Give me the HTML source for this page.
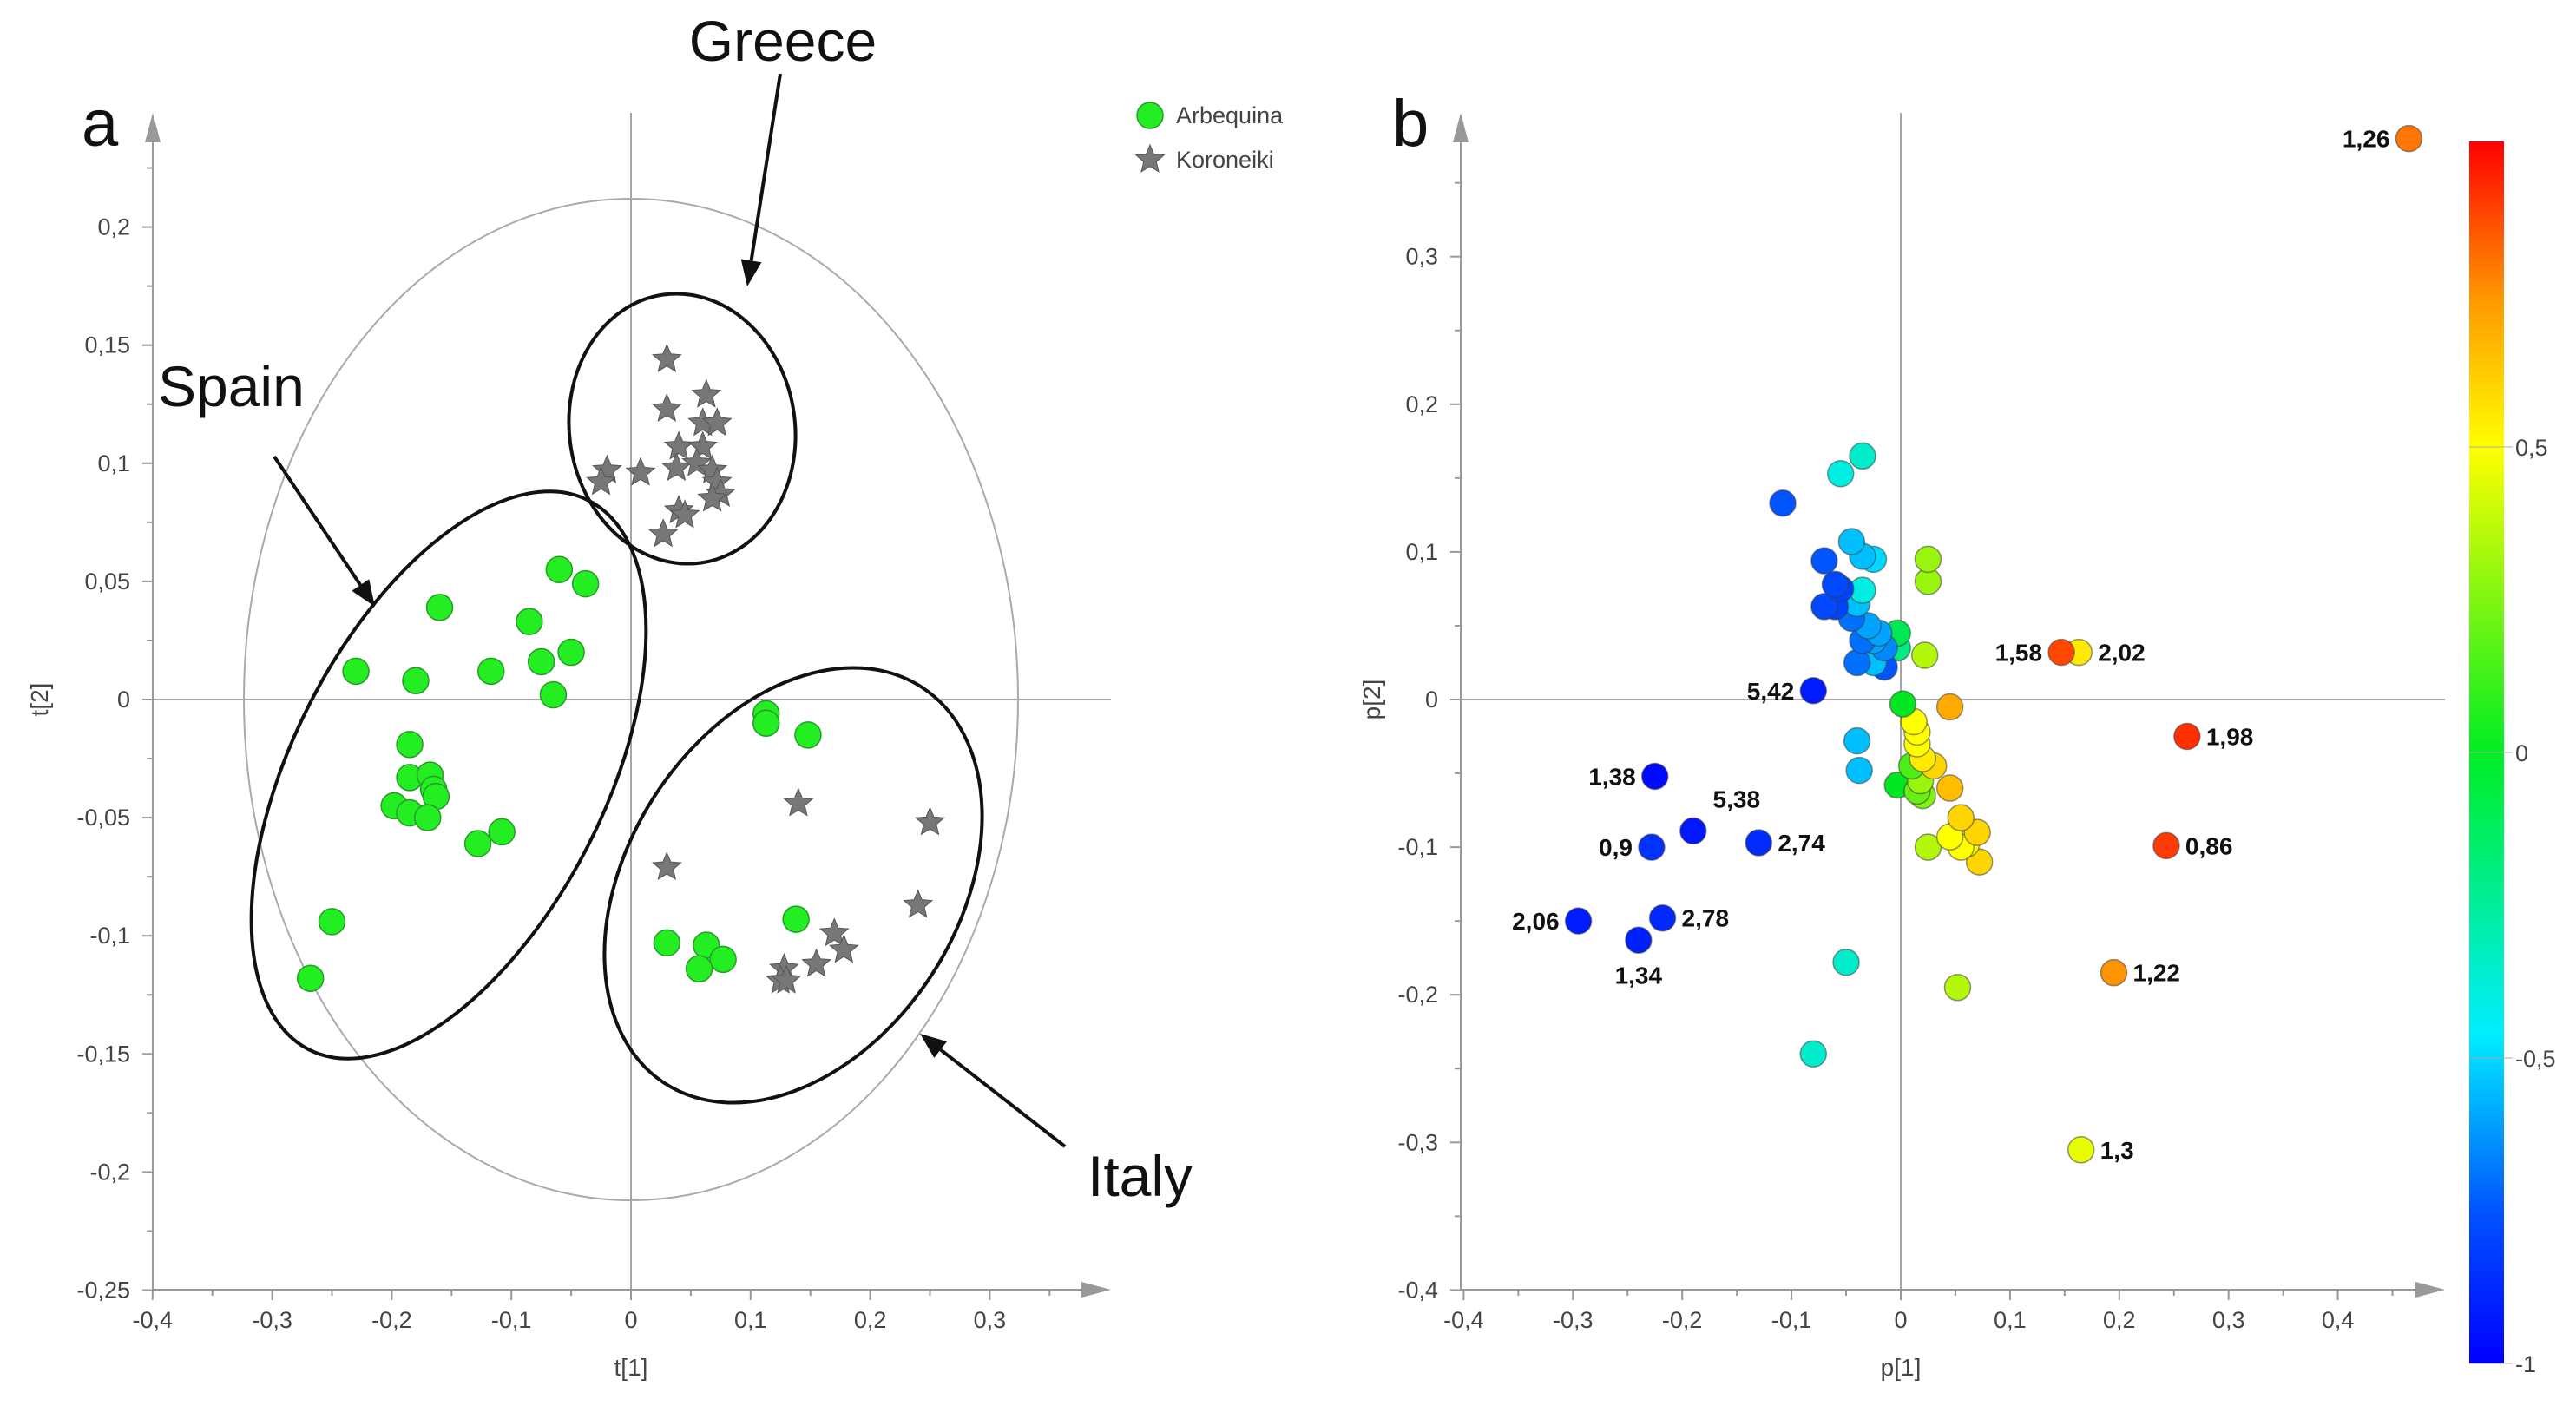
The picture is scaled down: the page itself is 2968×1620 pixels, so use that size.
<!DOCTYPE html>
<html><head><meta charset="utf-8">
<style>
html,body{margin:0;padding:0;background:#fff;}
svg{display:block;font-family:"Liberation Sans",sans-serif;}
</style></head>
<body>
<svg id="chart" width="2968" height="1620" viewBox="0 0 2968 1620" xmlns="http://www.w3.org/2000/svg">
<defs>
<linearGradient id="cbar" x1="0" y1="1" x2="0" y2="0">
<stop offset="0" stop-color="#0000ff"/>
<stop offset="0.12" stop-color="#0050ff"/>
<stop offset="0.27" stop-color="#00eeff"/>
<stop offset="0.5" stop-color="#00ee22"/>
<stop offset="0.75" stop-color="#ffff00"/>
<stop offset="0.87" stop-color="#ff9900"/>
<stop offset="1" stop-color="#ff0000"/>
</linearGradient>
</defs>
<g id="panelA"></g>
<g id="panelB"></g>
</svg>
<script>
// ---- Panel a data ----
const arbT1 = [-0.23,-0.18,-0.16,-0.117,-0.085,-0.075,-0.06,-0.038,-0.05,-0.065,-0.185,-0.185,-0.168,-0.165,-0.163,-0.198,-0.185,-0.17,-0.128,-0.108,-0.25,-0.268,0.113,0.113,0.148,0.138,0.03,0.063,0.077,0.057];
const arbT2 = [0.012,0.008,0.039,0.012,0.033,0.016,0.055,0.049,0.02,0.002,-0.019,-0.033,-0.032,-0.038,-0.041,-0.045,-0.048,-0.05,-0.061,-0.056,-0.094,-0.118,-0.006,-0.01,-0.015,-0.093,-0.103,-0.104,-0.11,-0.114];
const korT1 = [0.03,0.03,0.063,0.06,0.072,0.04,0.06,0.038,0.055,0.068,0.072,0.075,0.068,0.008,-0.02,-0.025,0.04,0.045,0.027,0.14,0.03,0.25,0.24,0.17,0.178,0.155,0.128,0.125,0.13];
const korT2 = [0.144,0.123,0.129,0.117,0.117,0.107,0.107,0.098,0.1,0.097,0.092,0.087,0.085,0.096,0.097,0.092,0.08,0.078,0.07,-0.044,-0.071,-0.052,-0.087,-0.099,-0.106,-0.112,-0.114,-0.119,-0.119];
const aXTicks = [-0.4,-0.3,-0.2,-0.1,0,0.1,0.2,0.3];
const aXLabels = ["-0,4","-0,3","-0,2","-0,1","0","0,1","0,2","0,3"];
const aYTicks = [0.2,0.15,0.1,0.05,0,-0.05,-0.1,-0.15,-0.2,-0.25];
const aYLabels = ["0,2","0,15","0,1","0,05","0","-0,05","-0,1","-0,15","-0,2","-0,25"];

// ---- Panel b data ----
const pP1 = [0.465,0.147,0.163,0.262,0.243,0.195,0.165,-0.08,-0.225,-0.19,-0.228,-0.13,-0.295,-0.218,-0.24,
 -0.108,-0.055,-0.035,-0.045,-0.035,-0.025,-0.07,-0.06,-0.055,-0.035,-0.07,-0.06,-0.04,-0.045,-0.03,-0.02,-0.035,-0.025,-0.015,-0.04,-0.025,-0.015,-0.003,-0.003,
 0.025,0.025,0.022,0.002,0.045,0.012,0.015,0.015,0.02,0.03,0.01,0.018,0.045,0.015,0.02,-0.003,0.055,0.07,0.045,0.055,0.06,0.072,0.025,-0.04,-0.038,-0.05,-0.08,0.052];
const pP2 = [0.38,0.032,0.032,-0.025,-0.099,-0.185,-0.305,0.006,-0.052,-0.089,-0.1,-0.097,-0.15,-0.148,-0.163,
 0.133,0.153,0.165,0.107,0.097,0.095,0.094,0.078,0.075,0.074,0.063,0.063,0.065,0.055,0.05,0.045,0.04,0.04,0.035,0.025,0.025,0.022,0.045,0.035,
 0.095,0.08,0.03,-0.003,-0.005,-0.015,-0.022,-0.03,-0.04,-0.045,-0.045,-0.055,-0.06,-0.062,-0.065,-0.058,-0.08,-0.09,-0.093,-0.1,-0.098,-0.11,-0.1,-0.028,-0.048,-0.178,-0.24,-0.195];
const pCol = [0.8,0.88,0.55,0.92,0.9,0.75,0.45,-0.92,-0.97,-0.93,-0.85,-0.87,-0.92,-0.88,-0.9,
 -0.75,-0.4,-0.35,-0.55,-0.55,-0.5,-0.75,-0.78,-0.8,-0.4,-0.78,-0.8,-0.55,-0.7,-0.6,-0.6,-0.7,-0.6,-0.65,-0.7,-0.55,-0.75,-0.1,-0.2,
 0.3,0.3,0.35,0.0,0.7,0.5,0.5,0.5,0.55,0.6,0.15,0.3,0.65,0.2,0.25,0.0,0.6,0.6,0.5,0.5,0.5,0.6,0.35,-0.55,-0.55,-0.35,-0.35,0.35];
const pLabels = ["1,26","1,58","2,02","1,98","0,86","1,22","1,3","5,42","1,38","5,38","0,9","2,74","2,06","2,78","1,34"];
const pLabelPos = ["L","L","R","R","R","R","R","L","L","UR","L","R","L","R","B"];
const bXTicks = [-0.4,-0.3,-0.2,-0.1,0,0.1,0.2,0.3,0.4];
const bXLabels = ["-0,4","-0,3","-0,2","-0,1","0","0,1","0,2","0,3","0,4"];
const bYTicks = [0.3,0.2,0.1,0,-0.1,-0.2,-0.3,-0.4];
const bYLabels = ["0,3","0,2","0,1","0","-0,1","-0,2","-0,3","-0,4"];
const cbTicks = [0.5,0,-0.5,-1];
const cbLabels = ["0,5","0","-0,5","-1"];

const NS="http://www.w3.org/2000/svg";
function mk(parent,tag,attrs,text){const e=document.createElementNS(NS,tag);for(const k in attrs)e.setAttribute(k,attrs[k]);if(text!==undefined)e.textContent=text;parent.appendChild(e);return e;}

// axis functions
const ax=v=>727+v*1378, ay=v=>806-v*2722;
const bx=v=>2190+v*1259, by=v=>806-v*1701;
const cy=v=>867-v*704;

function colormap(v){
  const st=[[-1,[0,0,255]],[-0.76,[0,80,255]],[-0.46,[0,238,255]],[0,[0,230,34]],[0.5,[255,255,0]],[0.74,[255,153,0]],[1,[255,0,0]]];
  v=Math.max(-1,Math.min(1,v));
  for(let i=0;i<st.length-1;i++){const [a,ca]=st[i],[b,cb]=st[i+1];
    if(v<=b){const t=(v-a)/(b-a);return "rgb("+ca.map((c,j)=>Math.round(c+(cb[j]-c)*t)).join(",")+")";}}
  return "rgb(255,0,0)";
}
function star(cx,cy,r){let p=[];for(let i=0;i<10;i++){const rr=i%2?r*0.45:r;const a=-Math.PI/2+i*Math.PI/5;p.push((cx+rr*Math.cos(a)).toFixed(1)+","+(cy+rr*Math.sin(a)).toFixed(1));}return p.join(" ");}

function axes(g,X0,X1,Y0,Y1,xaxisY,yaxisX){
  // x axis
  mk(g,"line",{x1:yaxisX,y1:xaxisY,x2:X1-20,y2:xaxisY,stroke:"#999","stroke-width":2});
  mk(g,"polygon",{points:`${X1},${xaxisY} ${X1-34},${xaxisY-9} ${X1-34},${xaxisY+9}`,fill:"#999"});
  mk(g,"line",{x1:yaxisX,y1:Y0+20,x2:yaxisX,y2:xaxisY,stroke:"#999","stroke-width":2});
  mk(g,"polygon",{points:`${yaxisX},${Y0} ${yaxisX-9},${Y0+34} ${yaxisX+9},${Y0+34}`,fill:"#999"});
}

// ---------- Panel A ----------
const A=document.getElementById("panelA");
axes(A,0,1280,130,0,1486,176);
// zero lines
let e;
e=mk(A,"line",{x1:ax(0),y1:130,x2:ax(0),y2:1486,stroke:"#888","stroke-width":1.5});


e=mk(A,"line",{x1:176,y1:ay(0),x2:1280,y2:ay(0),stroke:"#888","stroke-width":1.5});


aXTicks.forEach((t,i)=>{
  mk(A,"line",{x1:ax(t),y1:1486,x2:ax(t),y2:1498,stroke:"#999","stroke-width":2});
  if(i<aXTicks.length) mk(A,"line",{x1:ax(t+0.05),y1:1486,x2:ax(t+0.05),y2:1493,stroke:"#999","stroke-width":2});
  const tx=mk(A,"text",{x:ax(t),y:1530,"text-anchor":"middle","font-size":27,fill:"#444"},aXLabels[i]);
  
  
});
aYTicks.forEach((t,i)=>{
  mk(A,"line",{x1:164,y1:ay(t),x2:176,y2:ay(t),stroke:"#999","stroke-width":2});
  mk(A,"line",{x1:169,y1:ay(t+0.025),x2:176,y2:ay(t+0.025),stroke:"#999","stroke-width":2});
  const tx=mk(A,"text",{x:150,y:ay(t)+9,"text-anchor":"end","font-size":27,fill:"#444"},aYLabels[i]);
  
  
});
e=mk(A,"text",{x:727,y:1585,"text-anchor":"middle","font-size":28,fill:"#444"},"t[1]");


e=mk(A,"text",{x:0,y:0,transform:"translate(55,806) rotate(-90)","text-anchor":"middle","font-size":28,fill:"#444"},"t[2]");


// ellipses
e=mk(A,"ellipse",{cx:727,cy:806,rx:446,ry:577,fill:"none",stroke:"#aaa","stroke-width":2});


e=mk(A,"ellipse",{cx:786,cy:494,rx:130,ry:156,fill:"none",stroke:"#111","stroke-width":4,transform:"rotate(-8 786 494)"});


e=mk(A,"ellipse",{cx:517,cy:893,rx:180,ry:355,fill:"none",stroke:"#111","stroke-width":4,transform:"rotate(27 517 893)"});


e=mk(A,"ellipse",{cx:914,cy:1020,rx:272,ry:190,fill:"none",stroke:"#111","stroke-width":4,transform:"rotate(-57 914 1020)"});


// points
arbT1.forEach((v,i)=>{
  const c=mk(A,"circle",{cx:ax(v),cy:ay(arbT2[i]),r:15,fill:"#22ee22",stroke:"#2a9a2a","stroke-width":1.5});
  
  
});
korT1.forEach((v,i)=>{
  const s=mk(A,"polygon",{points:star(ax(v),ay(korT2[i]),17),fill:"#777",stroke:"#555","stroke-width":1});
  
  
});
// arrows
function arrow(g,x1,y1,x2,y2,name){
  const ang=Math.atan2(y2-y1,x2-x1),L=30,W=12;
  const bx_=x2-L*Math.cos(ang),by_=y2-L*Math.sin(ang);
  const grp=mk(g,"g",{});
  
  
  mk(grp,"line",{x1:x1,y1:y1,x2:bx_,y2:by_,stroke:"#111","stroke-width":4});
  mk(grp,"polygon",{points:`${x2},${y2} ${bx_+W*Math.sin(ang)},${by_-W*Math.cos(ang)} ${bx_-W*Math.sin(ang)},${by_+W*Math.cos(ang)}`,fill:"#111"});
}
arrow(A,899,85,861,330,"greece-arrow");
arrow(A,316,526,432,699,"spain-arrow");
arrow(A,1227,1321,1060,1191,"italy-arrow");
e=mk(A,"text",{x:902,y:70,"text-anchor":"middle","font-size":66,fill:"#111"},"Greece");


e=mk(A,"text",{x:182,y:468,"font-size":66,fill:"#111"},"Spain");


e=mk(A,"text",{x:1253,y:1378,"font-size":66,fill:"#111"},"Italy");


e=mk(A,"text",{x:94,y:168,"font-size":76,fill:"#111"},"a");


// legend
const lg=mk(A,"g",{});


mk(lg,"circle",{cx:1325,cy:133,r:15,fill:"#22ee22",stroke:"#2a9a2a","stroke-width":1.5});
e=mk(lg,"text",{x:1355,y:142,"font-size":27,fill:"#444"},"Arbequina");


mk(lg,"polygon",{points:star(1325,184,17),fill:"#777",stroke:"#555","stroke-width":1});
e=mk(lg,"text",{x:1355,y:193,"font-size":27,fill:"#444"},"Koroneiki");



// ---------- Panel B ----------
const B=document.getElementById("panelB");
axes(B,0,2817,130,0,1486,1683);
e=mk(B,"line",{x1:bx(0),y1:130,x2:bx(0),y2:1486,stroke:"#888","stroke-width":1.5});


e=mk(B,"line",{x1:1683,y1:by(0),x2:2817,y2:by(0),stroke:"#888","stroke-width":1.5});


bXTicks.forEach((t,i)=>{
  mk(B,"line",{x1:bx(t),y1:1486,x2:bx(t),y2:1498,stroke:"#999","stroke-width":2});
  mk(B,"line",{x1:bx(t+0.05),y1:1486,x2:bx(t+0.05),y2:1493,stroke:"#999","stroke-width":2});
  const tx=mk(B,"text",{x:bx(t),y:1530,"text-anchor":"middle","font-size":27,fill:"#444"},bXLabels[i]);
  
  
});
bYTicks.forEach((t,i)=>{
  mk(B,"line",{x1:1671,y1:by(t),x2:1683,y2:by(t),stroke:"#999","stroke-width":2});
  mk(B,"line",{x1:1676,y1:by(t+0.05),x2:1683,y2:by(t+0.05),stroke:"#999","stroke-width":2});
  const tx=mk(B,"text",{x:1657,y:by(t)+9,"text-anchor":"end","font-size":27,fill:"#444"},bYLabels[i]);
  
  
});
e=mk(B,"text",{x:2190,y:1585,"text-anchor":"middle","font-size":28,fill:"#444"},"p[1]");


e=mk(B,"text",{x:0,y:0,transform:"translate(1590,806) rotate(-90)","text-anchor":"middle","font-size":28,fill:"#444"},"p[2]");


e=mk(B,"text",{x:1604,y:168,"font-size":76,fill:"#111"},"b");


// points (unlabeled first so labeled on top)
const order=[...pP1.keys()].reverse();
order.forEach(i=>{
  const c=mk(B,"circle",{cx:bx(pP1[i]),cy:by(pP2[i]),r:15,fill:colormap(pCol[i]),stroke:"rgba(60,60,60,0.55)","stroke-width":1.5});
  
  
});
pLabels.forEach((lab,i)=>{
  const x=bx(pP1[i]),y=by(pP2[i]);let a={"font-size":28,"font-weight":"bold",fill:"#111"};
  const p=pLabelPos[i];
  if(p==="L"){a.x=x-22;a.y=y+10;a["text-anchor"]="end";}
  else if(p==="R"){a.x=x+22;a.y=y+10;}
  else if(p==="UR"){a.x=x+50;a.y=y-27;a["text-anchor"]="middle";}
  else {a.x=x;a.y=y+50;a["text-anchor"]="middle";}
  const t=mk(B,"text",a,lab);
  
  
});
// colorbar
e=mk(B,"rect",{x:2845,y:cy(1),width:40,height:cy(-1)-cy(1),fill:"url(#cbar)"});


cbTicks.forEach((t,i)=>{
  mk(B,"line",{x1:2845,y1:cy(t),x2:2895,y2:cy(t),stroke:"#aa9",opacity:0.6,"stroke-width":1.5});
  const tx=mk(B,"text",{x:2898,y:cy(t)+10,"font-size":27,fill:"#444"},cbLabels[i]);
  
  
});
</script>
</body></html>
